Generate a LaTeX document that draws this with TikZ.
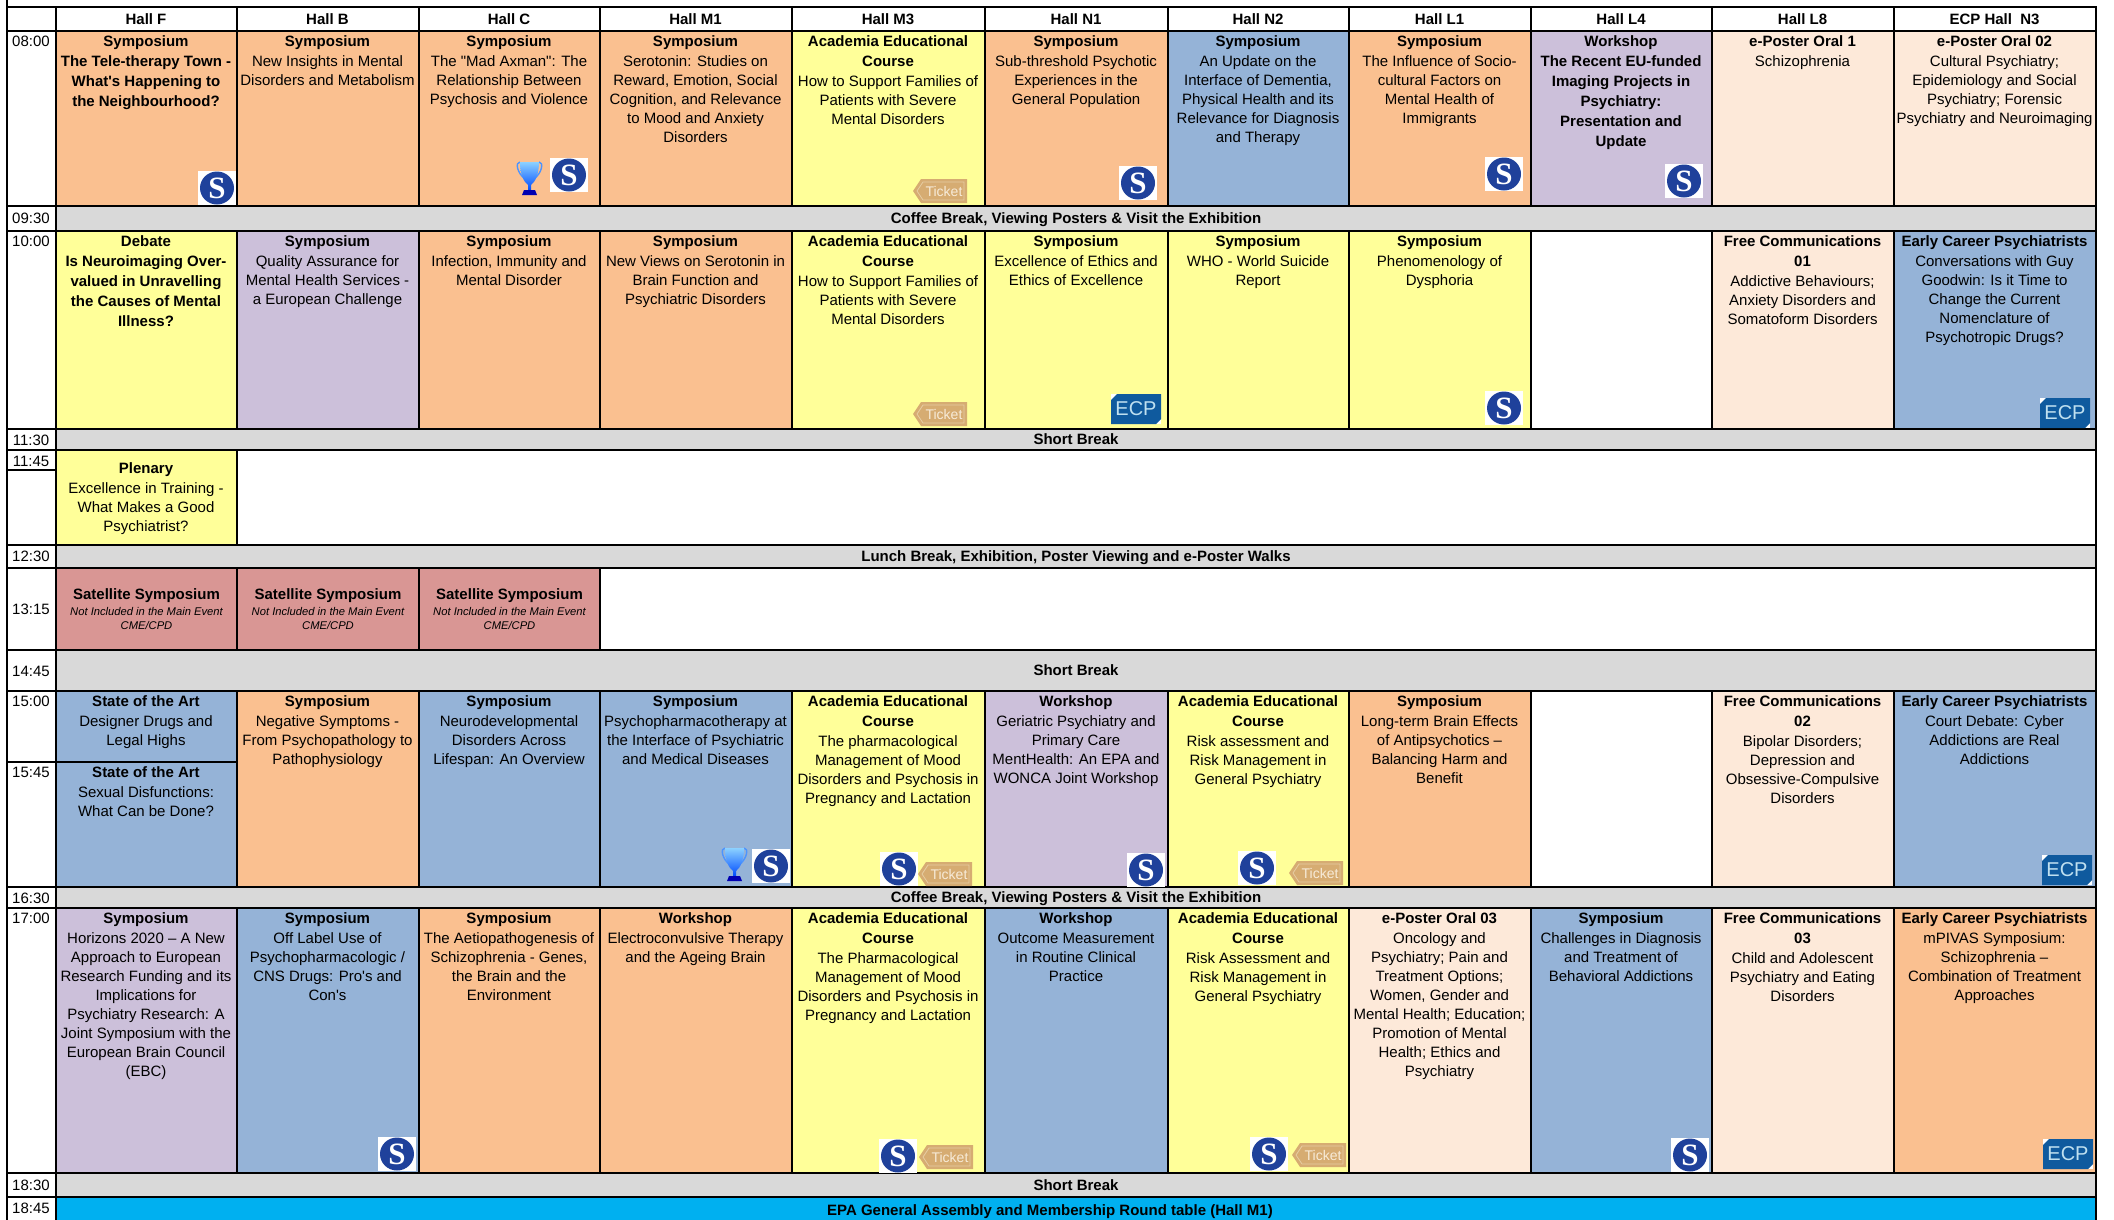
\documentclass[tikz,border=0pt]{standalone}
\usepackage{fontspec}
\setmainfont[Ligatures=TeXOff]{Liberation Sans}
\newfontfamily\logoserif[Ligatures=TeXOff]{Liberation Serif}
\definecolor{orangec}{HTML}{FAC090}
\definecolor{yellowc}{HTML}{FFFF99}
\definecolor{purplec}{HTML}{CCC0DA}
\definecolor{bluec}{HTML}{95B3D7}
\definecolor{palec}{HTML}{FDE9D9}
\definecolor{redc}{HTML}{D99694}
\definecolor{grayc}{HTML}{D9D9D9}
\definecolor{cyanc}{HTML}{00B0F0}
\definecolor{logoblue}{HTML}{1F419B}
\definecolor{ecpblue}{HTML}{0F5A9E}
\definecolor{ecptext}{HTML}{BFE0F0}
\definecolor{tickettan}{HTML}{D6AC72}
\definecolor{ticketline}{HTML}{E6CDA3}
\definecolor{ticketfont}{HTML}{F7EBD8}
\tikzset{
  gridline/.style={draw=black,line width=2pt},
  celltext/.style={anchor=north,inner sep=0pt,align=center,text=black,font=\fontsize{15}{19}\selectfont},
  timetext/.style={anchor=base,inner sep=0pt,text=black,font=\fontsize{15}{19}\selectfont},
  headtext/.style={anchor=base,inner sep=0pt,text=black,font=\fontsize{15}{19}\selectfont\bfseries},
  slabel/.style={inner sep=0pt,text=white,font=\fontsize{31}{31}\selectfont\logoserif\bfseries},
  ticketlabel/.style={inner sep=0pt,text=ticketfont,font=\fontsize{14}{14}\selectfont},
  ecplabel/.style={inner sep=0pt,text=ecptext,font=\fontsize{20}{20}\selectfont},
}
\newcounter{nn}
\newcommand\bl[1]{{\bfseries #1}\\[1pt]}
\newcommand\bx[1]{{\bfseries #1}}
\newcommand\ismall[1]{{\fontsize{11.2}{14}\selectfont\itshape #1}}
\newcommand\acad{\bl{Academia Educational}\bl{Course}}
\newcommand\cellbox[6]{%
  \path[gridline,fill=#5] (#1,#3) rectangle (#2,#4);
  \stepcounter{nn}
  \node[celltext] (c\thenn) at ({(#1+#2)/2-0.5},#3+3.7) {\rule{0pt}{12pt}#6};}
\newcommand\emptycell[4]{\path[gridline,fill=white] (#1,#3) rectangle (#2,#4);}
\newcommand\headcell[3]{%
  \path[gridline,fill=white] (#1,6.7) rectangle (#2,31);
  \stepcounter{nn}
  \node[headtext] (h\thenn) at ({(#1+#2)/2-0.5},24) {#3};}
\newcommand\timecell[4]{%
  \path[gridline,fill=white] (6.7,#1) rectangle (56,#2);
  \stepcounter{nn}
  \node[timetext] (t\thenn) at (31,#4+5.4) {#3};}
\newcommand\breakrow[5]{%
  \path[gridline,fill=#3] (56,#1) rectangle (2096,#2);
  \stepcounter{nn}
  \node[headtext] (b\thenn) at (#5,{(#1+#2)/2+5}) {#4};}
\newcommand\satcell[2]{%
  \path[gridline,fill=redc] (#1,567.7) rectangle (#2,650);
  \stepcounter{nn}
  \node[celltext] (sat\thenn) at ({(#1+#2)/2},587) {\rule{0pt}{12pt}\bx{Satellite Symposium}\\[-3pt]\ismall{Not Included in the Main Event}\\[-5pt]\ismall{CME/CPD}};}
\newcommand\slogo[2]{%
  \fill[white] (#1,#2) rectangle ++(38,34);
  \fill[logoblue] (#1+19,#2+17) ellipse [x radius=17,y radius=16.5];
  \stepcounter{nn}
  \node[slabel] (s\thenn) at (#1+19,#2+17) {S};}
\newcommand\ticket[2]{%
  \fill[tickettan] (#1,#2+12) -- (#1+8,#2) -- (#1+54,#2) -- (#1+54,#2+24) -- (#1+8,#2+24) -- cycle;
  \draw[ticketline,line width=0.8pt] (#1+4,#2+12) -- (#1+10,#2+3) -- (#1+51,#2+3) -- (#1+51,#2+21) -- (#1+10,#2+21) -- cycle;
  \stepcounter{nn}
  \node[ticketlabel] (k\thenn) at (#1+31,#2+12) {Ticket};}
\newcommand\ecp[2]{%
  \fill[white] (#1,#2) rectangle ++(50,30);
  \fill[ecpblue] (#1+6,#2) -- (#1+50,#2) -- (#1+50,#2+25) -- (#1+45,#2+30) -- (#1,#2+30) -- (#1,#2+6) -- cycle;
  \stepcounter{nn}
  \node[ecplabel] (e\thenn) at (#1+25,#2+15) {ECP};}
\newcommand\trophy[2]{%
  \draw[blue!60!cyan!70,line width=1.4pt] (#1+5,#2+1) .. controls (#1,#2+1) and (#1+2,#2+12) .. (#1+10,#2+18);
  \draw[blue!60!cyan!70,line width=1.4pt] (#1+24,#2+1) .. controls (#1+29,#2+1) and (#1+27,#2+12) .. (#1+19,#2+18);
  \shade[top color=cyan!60!blue!45,bottom color=blue!70!cyan] (#1+5,#2+1) -- (#1+24,#2+1) .. controls (#1+24,#2+14) and (#1+20,#2+21) .. (#1+16,#2+24) -- (#1+16,#2+29) -- (#1+13,#2+29) -- (#1+13,#2+24) .. controls (#1+9,#2+21) and (#1+5,#2+14) .. (#1+5,#2+1) -- cycle;
  \fill[blue!70!black] (#1+7,#2+34) -- (#1+9,#2+29) -- (#1+20,#2+29) -- (#1+22,#2+34) -- cycle;}
\begin{document}
\begin{tikzpicture}[x=1pt,y=-1pt]
\path[use as bounding box,clip] (0,0) rectangle (2114,1219);
% top-left stub
\draw[gridline] (6.7,0) -- (6.7,6.7);
% header row
\path[gridline,fill=white] (6.7,6.7) rectangle (56,31);
\headcell{56}{237}{Hall F}
\headcell{237}{419}{Hall B}
\headcell{419}{600}{Hall C}
\headcell{600}{792}{Hall M1}
\headcell{792}{985}{Hall M3}
\headcell{985}{1168}{Hall N1}
\headcell{1168}{1349}{Hall N2}
\headcell{1349}{1531}{Hall L1}
\headcell{1531}{1712}{Hall L4}
\headcell{1712}{1894}{Hall L8}
\headcell{1894}{2096}{ECP Hall~ N3}
% time column
\timecell{31}{205.7}{08:00}{41}
\timecell{205.7}{230.7}{09:30}{218.5}
\timecell{230.7}{428.7}{10:00}{241}
\timecell{428.7}{450}{11:30}{440}
\timecell{450}{470}{11:45}{461}
\timecell{470}{545}{}{500}
\timecell{545}{567.7}{12:30}{556.5}
\timecell{567.7}{650}{13:15}{609}
\timecell{650}{690.7}{14:45}{671}
\timecell{690.7}{761.7}{15:00}{701}
\timecell{761.7}{886.7}{15:45}{772}
\timecell{886.7}{907.7}{16:30}{898}
\timecell{907.7}{1173.3}{17:00}{918}
\timecell{1173.3}{1196.7}{18:30}{1185}
\timecell{1196.7}{1225}{18:45}{1208}
% breaks
\breakrow{205.7}{230.7}{grayc}{Coffee Break, Viewing Posters \& Visit the Exhibition}{1076}
\breakrow{428.7}{450}{grayc}{Short Break}{1076}
\breakrow{545}{567.7}{grayc}{Lunch Break, Exhibition, Poster Viewing and e-Poster Walks}{1076}
\breakrow{650}{690.7}{grayc}{Short Break}{1076}
\breakrow{886.7}{907.7}{grayc}{Coffee Break, Viewing Posters \& Visit the Exhibition}{1076}
\breakrow{1173.3}{1196.7}{grayc}{Short Break}{1076}
\breakrow{1196.7}{1225}{cyanc}{EPA General Assembly and Membership Round table (Hall M1)}{1050}
% row 08:00
\cellbox{56}{237}{31}{205.7}{orangec}{\bl{Symposium}\bl{The Tele-therapy Town -}\bl{What's Happening to}\bx{the Neighbourhood?}}
\cellbox{237}{419}{31}{205.7}{orangec}{\bl{Symposium}New Insights in Mental\\Disorders and Metabolism}
\cellbox{419}{600}{31}{205.7}{orangec}{\bl{Symposium}The "Mad Axman": The\\Relationship Between\\Psychosis and Violence}
\cellbox{600}{792}{31}{205.7}{orangec}{\bl{Symposium}Serotonin: Studies on\\Reward, Emotion, Social\\Cognition, and Relevance\\to Mood and Anxiety\\Disorders}
\cellbox{792}{985}{31}{205.7}{yellowc}{\acad How to Support Families of\\Patients with Severe\\Mental Disorders}
\cellbox{985}{1168}{31}{205.7}{orangec}{\bl{Symposium}Sub-threshold Psychotic\\Experiences in the\\General Population}
\cellbox{1168}{1349}{31}{205.7}{bluec}{\bl{Symposium}An Update on the\\Interface of Dementia,\\Physical Health and its\\Relevance for Diagnosis\\and Therapy}
\cellbox{1349}{1531}{31}{205.7}{orangec}{\bl{Symposium}The Influence of Socio-\\cultural Factors on\\Mental Health of\\Immigrants}
\cellbox{1531}{1712}{31}{205.7}{purplec}{\bl{Workshop}\bl{The Recent EU-funded}\bl{Imaging Projects in}\bl{Psychiatry:}\bl{Presentation and}\bx{Update}}
\cellbox{1712}{1894}{31}{205.7}{palec}{\bl{e-Poster Oral 1}Schizophrenia}
\cellbox{1894}{2096}{31}{205.7}{palec}{\bl{e-Poster Oral 02}Cultural Psychiatry;\\Epidemiology and Social\\Psychiatry; Forensic\\Psychiatry and Neuroimaging}
% row 10:00
\cellbox{56}{237}{230.7}{428.7}{yellowc}{\bl{Debate}\bl{Is Neuroimaging Over-}\bl{valued in Unravelling}\bl{the Causes of Mental}\bx{Illness?}}
\cellbox{237}{419}{230.7}{428.7}{purplec}{\bl{Symposium}Quality Assurance for\\Mental Health Services -\\a European Challenge}
\cellbox{419}{600}{230.7}{428.7}{orangec}{\bl{Symposium}Infection, Immunity and\\Mental Disorder}
\cellbox{600}{792}{230.7}{428.7}{orangec}{\bl{Symposium}New Views on Serotonin in\\Brain Function and\\Psychiatric Disorders}
\cellbox{792}{985}{230.7}{428.7}{yellowc}{\acad How to Support Families of\\Patients with Severe\\Mental Disorders}
\cellbox{985}{1168}{230.7}{428.7}{yellowc}{\bl{Symposium}Excellence of Ethics and\\Ethics of Excellence}
\cellbox{1168}{1349}{230.7}{428.7}{yellowc}{\bl{Symposium}WHO - World Suicide\\Report}
\cellbox{1349}{1531}{230.7}{428.7}{yellowc}{\bl{Symposium}Phenomenology of\\Dysphoria}
\emptycell{1531}{1712}{230.7}{428.7}
\cellbox{1712}{1894}{230.7}{428.7}{palec}{\bl{Free Communications}\bl{01}Addictive Behaviours;\\Anxiety Disorders and\\Somatoform Disorders}
\cellbox{1894}{2096}{230.7}{428.7}{bluec}{\bl{Early Career Psychiatrists}Conversations with Guy\\Goodwin: Is it Time to\\Change the Current\\Nomenclature of\\Psychotropic Drugs?}
% plenary
\emptycell{237}{2096}{450}{545}
\path[gridline,fill=yellowc] (56,450) rectangle (237,545);
\node[celltext] (plenary) at (146,461) {\rule{0pt}{12pt}\bl{Plenary}Excellence in Training -\\What Makes a Good\\Psychiatrist?};
% satellite
\emptycell{600}{2096}{567.7}{650}
\satcell{56}{237}
\satcell{237}{419}
\satcell{419}{600}
% row 15:00
\cellbox{56}{237}{690.7}{761.7}{bluec}{\bl{State of the Art}Designer Drugs and\\Legal Highs}
\cellbox{56}{237}{761.7}{886.7}{bluec}{\bl{State of the Art}Sexual Disfunctions:\\What Can be Done?}
\cellbox{237}{419}{690.7}{886.7}{orangec}{\bl{Symposium}Negative Symptoms -\\From Psychopathology to\\Pathophysiology}
\cellbox{419}{600}{690.7}{886.7}{bluec}{\bl{Symposium}Neurodevelopmental\\Disorders Across\\Lifespan: An Overview}
\cellbox{600}{792}{690.7}{886.7}{bluec}{\bl{Symposium}Psychopharmacotherapy at\\the Interface of Psychiatric\\and Medical Diseases}
\cellbox{792}{985}{690.7}{886.7}{yellowc}{\acad The pharmacological\\Management of Mood\\Disorders and Psychosis in\\Pregnancy and Lactation}
\cellbox{985}{1168}{690.7}{886.7}{purplec}{\bl{Workshop}Geriatric Psychiatry and\\Primary Care\\MentHealth: An EPA and\\WONCA Joint Workshop}
\cellbox{1168}{1349}{690.7}{886.7}{yellowc}{\acad Risk assessment and\\Risk Management in\\General Psychiatry}
\cellbox{1349}{1531}{690.7}{886.7}{orangec}{\bl{Symposium}Long-term Brain Effects\\of Antipsychotics –\\Balancing Harm and\\Benefit}
\emptycell{1531}{1712}{690.7}{886.7}
\cellbox{1712}{1894}{690.7}{886.7}{palec}{\bl{Free Communications}\bl{02}Bipolar Disorders;\\Depression and\\Obsessive-Compulsive\\Disorders}
\cellbox{1894}{2096}{690.7}{886.7}{bluec}{\bl{Early Career Psychiatrists}Court Debate: Cyber\\Addictions are Real\\Addictions}
% row 17:00
\cellbox{56}{237}{907.7}{1173.3}{purplec}{\bl{Symposium}Horizons 2020 – A New\\Approach to European\\Research Funding and its\\Implications for\\Psychiatry Research: A\\Joint Symposium with the\\European Brain Council\\(EBC)}
\cellbox{237}{419}{907.7}{1173.3}{bluec}{\bl{Symposium}Off Label Use of\\Psychopharmacologic /\\CNS Drugs: Pro's and\\Con's}
\cellbox{419}{600}{907.7}{1173.3}{orangec}{\bl{Symposium}The Aetiopathogenesis of\\Schizophrenia - Genes,\\the Brain and the\\Environment}
\cellbox{600}{792}{907.7}{1173.3}{orangec}{\bl{Workshop}Electroconvulsive Therapy\\and the Ageing Brain}
\cellbox{792}{985}{907.7}{1173.3}{yellowc}{\acad The Pharmacological\\Management of Mood\\Disorders and Psychosis in\\Pregnancy and Lactation}
\cellbox{985}{1168}{907.7}{1173.3}{bluec}{\bl{Workshop}Outcome Measurement\\in Routine Clinical\\Practice}
\cellbox{1168}{1349}{907.7}{1173.3}{yellowc}{\acad Risk Assessment and\\Risk Management in\\General Psychiatry}
\cellbox{1349}{1531}{907.7}{1173.3}{palec}{\bl{e-Poster Oral 03}Oncology and\\Psychiatry; Pain and\\Treatment Options;\\Women, Gender and\\Mental Health; Education;\\Promotion of Mental\\Health; Ethics and\\Psychiatry}
\cellbox{1531}{1712}{907.7}{1173.3}{bluec}{\bl{Symposium}Challenges in Diagnosis\\and Treatment of\\Behavioral Addictions}
\cellbox{1712}{1894}{907.7}{1173.3}{palec}{\bl{Free Communications}\bl{03}Child and Adolescent\\Psychiatry and Eating\\Disorders}
\cellbox{1894}{2096}{907.7}{1173.3}{orangec}{\bl{Early Career Psychiatrists}mPIVAS Symposium:\\Schizophrenia –\\Combination of Treatment\\Approaches}
% S logos
\slogo{198}{171}
\slogo{550}{158}
\slogo{1119}{166}
\slogo{1485}{157}
\slogo{1665}{164}
\slogo{1485}{391}
\slogo{752}{849}
\slogo{880}{852}
\slogo{1127}{853}
\slogo{1238}{851}
\slogo{378}{1137}
\slogo{879}{1139}
\slogo{1250}{1137}
\slogo{1671}{1138}
% tickets
\ticket{913}{179}
\ticket{913}{402}
\ticket{918}{862}
\ticket{1289}{861}
\ticket{919}{1145}
\ticket{1292}{1143}
% ECP
\ecp{1111}{394}
\ecp{2040}{398}
\ecp{2042}{855}
\ecp{2043}{1139}
% trophies
\trophy{515}{161}
\trophy{720}{847}
\end{tikzpicture}
\end{document}
